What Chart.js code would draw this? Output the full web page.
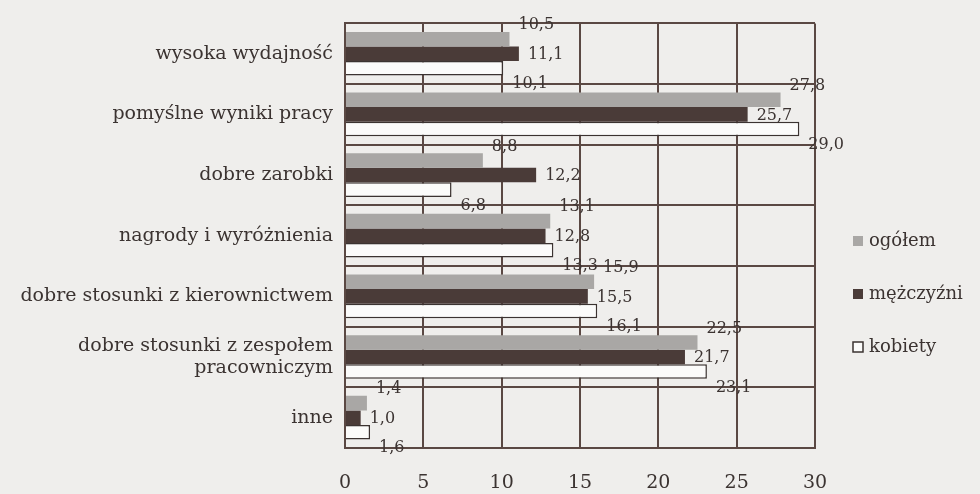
<!DOCTYPE html>
<html>
<head>
<meta charset="utf-8">
<script src="https://cdn.jsdelivr.net/npm/chart.js@4"></script>
<style>
  html, body { margin: 0; padding: 0; background: #efeeec; }
  #wrap { width: 980px; height: 494px; }
</style>
</head>
<body>
<div id="wrap"><canvas id="chart" width="980" height="494"></canvas></div>
<script>
const categories = [
  'wysoka wydajność',
  'pomyślne wyniki pracy',
  'dobre zarobki',
  'nagrody i wyróżnienia',
  'dobre stosunki z kierownictwem',
  ['dobre stosunki z zespołem', 'pracowniczym'],
  'inne'
];
const ogolem = [10.5, 27.8, 8.8, 13.1, 15.9, 22.5, 1.4];
const mezczyzni = [11.1, 25.7, 12.2, 12.8, 15.5, 21.7, 1.0];
const kobiety = [10.1, 29.0, 6.8, 13.3, 16.1, 23.1, 1.6];
const xTicks = [0, 5, 10, 15, 20, 25, 30];

const ink = '#5a4843';
const serif = "'DejaVu Serif', 'Liberation Serif', serif";

// value labels beside bar ends
const valueLabels = {
  id: 'valueLabels',
  afterDatasetsDraw(chart) {
    const ctx = chart.ctx;
    const dy = [-14, 1, 16];
    ctx.save();
    ctx.font = '16px ' + serif;
    ctx.fillStyle = '#3b3331';
    ctx.textBaseline = 'middle';
    ctx.textAlign = 'left';
    chart.data.datasets.forEach((ds, i) => {
      chart.getDatasetMeta(i).data.forEach((bar, j) => {
        const txt = ds.data[j].toFixed(1).replace('.', ',');
        ctx.fillText(txt, bar.x + 9, bar.y + dy[i]);
      });
    });
    ctx.restore();
  }
};

// legend drawn to the right of the plot
const sideLegend = {
  id: 'sideLegend',
  afterDraw(chart) {
    const ctx = chart.ctx;
    const ys = [241, 294, 347];
    ctx.save();
    ctx.font = '18px ' + serif;
    ctx.textBaseline = 'middle';
    chart.data.datasets.forEach((ds, i) => {
      const x = 853, y = ys[i];
      ctx.fillStyle = ds.backgroundColor;
      ctx.fillRect(x, y - 5, 10, 10);
      if (ds.label === 'kobiety') {
        ctx.strokeStyle = '#3b3331';
        ctx.lineWidth = 1.5;
        ctx.strokeRect(x, y - 5, 10, 10);
      }
      ctx.fillStyle = '#3b3331';
      ctx.fillText(ds.label, x + 16, y);
    });
    ctx.restore();
  }
};

new Chart(document.getElementById('chart'), {
  type: 'bar',
  data: {
    labels: categories,
    datasets: [{
      label: 'ogółem',
      data: ogolem,
      backgroundColor: '#a9a7a5',
      borderColor: '#a9a7a5',
      borderWidth: 0
    }, {
      label: 'mężczyźni',
      data: mezczyzni,
      backgroundColor: '#4a3b38',
      borderColor: '#4a3b38',
      borderWidth: 0
    }, {
      label: 'kobiety',
      data: kobiety,
      backgroundColor: '#fbfbfa',
      borderColor: '#3b3331',
      borderWidth: 1.5
    }]
  },
  options: {
    indexAxis: 'y',
    responsive: false,
    animation: false,
    layout: { padding: { top: 18, right: 165, left: 0, bottom: 0 } },
    datasets: { bar: { categoryPercentage: 0.72, barPercentage: 1 } },
    plugins: {
      legend: { display: false },
      tooltip: { enabled: false }
    },
    scales: {
      x: {
        min: 0,
        max: 30,
        afterBuildTicks(scale) { scale.ticks = xTicks.map(v => ({ value: v })); },
        afterFit(scale) { scale.height = 46; },
        grid: { color: ink, lineWidth: 2, drawTicks: false },
        border: { color: ink, width: 2 },
        ticks: {
          padding: 24,
          color: '#3b3331',
          font: { family: serif, size: 19 }
        }
      },
      y: {
        afterFit(scale) { scale.width = 345; },
        grid: { color: ink, lineWidth: 2, offset: true, drawTicks: false },
        border: { color: ink, width: 2 },
        ticks: {
          padding: 12,
          color: '#3b3331',
          font: { family: serif, size: 19 }
        }
      }
    }
  },
  plugins: [valueLabels, sideLegend]
});
</script>
</body>
</html>
